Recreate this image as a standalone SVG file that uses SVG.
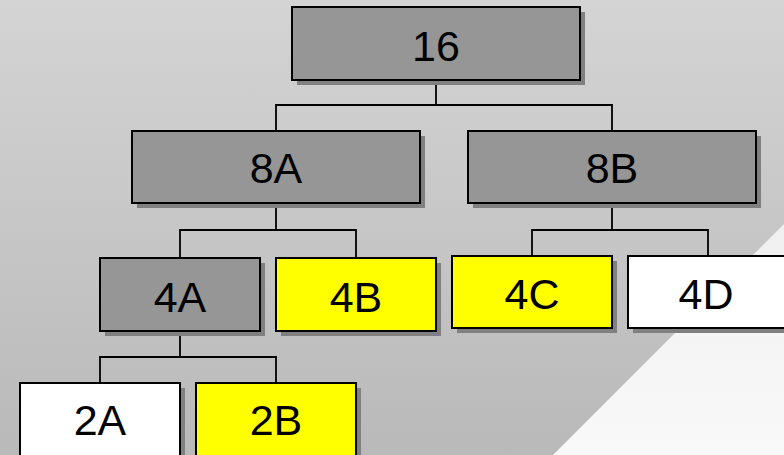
<svg xmlns="http://www.w3.org/2000/svg" width="784" height="455" viewBox="0 0 784 455">
<defs>
<linearGradient id="bg" x1="0" y1="0" x2="0" y2="1">
<stop offset="0" stop-color="#d4d4d4"/>
<stop offset="1" stop-color="#b9b9b9"/>
</linearGradient>
<linearGradient id="lt" x1="0" y1="0" x2="0" y2="1">
<stop offset="0" stop-color="#f0f0f0"/>
<stop offset="1" stop-color="#f9f9f9"/>
</linearGradient>
</defs>
<style>
.sh{fill:#808080}
.bx{stroke:#000;stroke-width:2}
.g{fill:#969696}
.y{fill:#ffff00}
.w{fill:#ffffff}
.t{font-family:"Liberation Sans",Arial,sans-serif;font-size:43px;fill:#000;text-anchor:middle}
.c{fill:none;stroke:#000;stroke-width:1.8}
</style>
<rect width="784" height="455" fill="url(#bg)"/>
<polygon points="784,224 784,455 553,455" fill="url(#lt)"/>
<g id="connectors">
<path class="c" d="M436,80V105M276,131V105H612V131"/>
<path class="c" d="M276,203V230M180,258V230H356V258"/>
<path class="c" d="M612,203V230M532,256V230H708V256"/>
<path class="c" d="M180,331V357M100,383V357H276V383"/>
</g>
<g id="n16"><rect class="sh" x="297" y="12" width="288" height="73"/><rect class="bx g" x="292" y="7" width="288" height="73"/><text class="t" x="436" y="61">16</text></g>
<g id="n8A"><rect class="sh" x="137" y="136" width="288" height="72"/><rect class="bx g" x="132" y="131" width="288" height="72"/><text class="t" x="276" y="183">8A</text></g>
<g id="n8B"><rect class="sh" x="473" y="136" width="288" height="72"/><rect class="bx g" x="468" y="131" width="288" height="72"/><text class="t" x="612" y="183">8B</text></g>
<g id="n4A"><rect class="sh" x="105" y="263" width="160" height="73"/><rect class="bx g" x="100" y="258" width="160" height="73"/><text class="t" x="180" y="312">4A</text></g>
<g id="n4B"><rect class="sh" x="281" y="263" width="160" height="73"/><rect class="bx y" x="276" y="258" width="160" height="73"/><text class="t" x="356" y="312">4B</text></g>
<g id="n4C"><rect class="sh" x="457" y="261" width="160" height="72"/><rect class="bx y" x="452" y="256" width="160" height="72"/><text class="t" x="532" y="309">4C</text></g>
<g id="n4D"><rect class="sh" x="633" y="261" width="160" height="72"/><rect class="bx w" x="628" y="256" width="160" height="72"/><text class="t" x="706" y="309">4D</text></g>
<g id="n2A"><rect class="sh" x="25" y="388" width="160" height="80"/><rect class="bx w" x="20" y="383" width="160" height="80"/><text class="t" x="100" y="435">2A</text></g>
<g id="n2B"><rect class="sh" x="201" y="388" width="160" height="80"/><rect class="bx y" x="196" y="383" width="160" height="80"/><text class="t" x="276" y="435">2B</text></g>
</svg>
